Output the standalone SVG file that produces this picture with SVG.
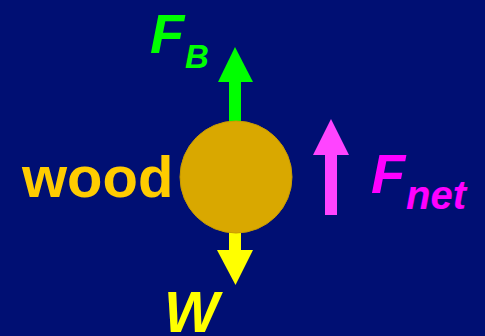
<svg xmlns="http://www.w3.org/2000/svg" width="485" height="336" viewBox="0 0 485 336">
  <style>
    text { font-family: "Liberation Sans", Arial, sans-serif; font-weight: bold; }
    .it { font-style: italic; }
  </style>
  <rect x="0" y="0" width="485" height="336" fill="#000F73"/>
  <g id="connectors">
    <g id="arrow-fb">
      <rect x="229" y="81" width="12" height="42" fill="#00FF00"/>
      <polygon points="235,47 253,82 218,82" fill="#00FF00"/>
    </g>
    <g id="arrow-w">
      <rect x="229" y="230" width="12" height="21" fill="#FFFF00"/>
      <polygon points="217,250 253,250 235.5,285" fill="#FFFF00"/>
    </g>
    <g id="arrow-fnet">
      <rect x="325" y="154" width="12" height="61" fill="#FF44FF"/>
      <polygon points="331,119 349,155 313,155" fill="#FF44FF"/>
    </g>
  </g>
  <g id="wood">
    <circle cx="236" cy="177" r="56" fill="#D9A800" stroke="#C99C00" stroke-width="1"/>
    <text x="22" y="197" font-size="58" fill="#FFCC00">wood</text>
  </g>
  <g id="label-fb">
    <text class="it" x="150" y="53" font-size="56" fill="#00FF00">F</text>
    <text class="it" x="185" y="68" font-size="33" fill="#00FF00">B</text>
  </g>
  <g id="label-fnet">
    <text class="it" x="371" y="193" font-size="56" fill="#FF00FF">F</text>
    <text class="it" x="406" y="209" font-size="40" fill="#FF00FF">net</text>
  </g>
  <g id="label-w">
    <text class="it" x="164" y="332" font-size="58" fill="#FFFF00">W</text>
  </g>
</svg>
